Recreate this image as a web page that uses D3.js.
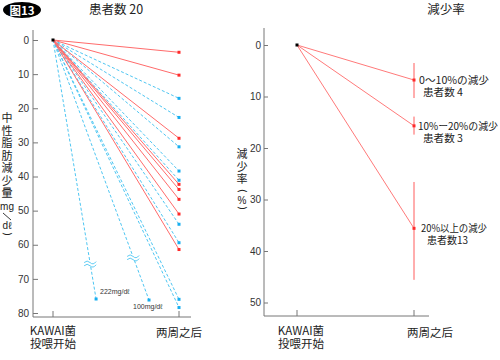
<!DOCTYPE html>
<html><head><meta charset="utf-8">
<script src="https://cdn.jsdelivr.net/npm/d3@7/dist/d3.min.js"></script>
<style>
html,body{margin:0;padding:0;background:#fff;}
svg{display:block;font-family:"Noto Sans CJK JP","Noto Sans CJK SC",sans-serif;}
</style></head>
<body><svg id="c" width="500" height="360"></svg>
<script>
// ---- data ----
const categories = ["KAWAI菌|投喂开始", "两周之后"];
const redValues = [3.6, 10.3, 28.8, 42.3, 43.8, 46.7, 51.0, 61.4];
const blueValues = [17.1, 22.7, 31.3, 38.4, 41.1, 54.0, 59.4, 76.0, 78.4];
const brokenValues = [222, 100];
const brokenLabels = ["222mg/dℓ", "100mg/dℓ"];
const brokenShownAt = [75.9, 76.2];
const brokenBreakAt = [65.4, 63.6];
const leftTicks = [0, 10, 20, 30, 40, 50, 60, 70, 80];
const rateGroups = ["0～10%の減少", "10%ー20%の減少", "20%以上の減少"];
const rateCounts = ["患者数 4", "患者数 3", "患者数13"];
const rateMean = [6.8, 15.7, 35.6];
const rateLow = [3.5, 13.9, 26.6];
const rateHigh = [10.3, 17.4, 45.6];
const rightTicks = [0, 10, 20, 30, 40, 50];

const svg = d3.select("#c");
const RED_LINE = "#ff6b6b", RED_PT = "#ff2a2a", BLUE_LINE = "#4ec6f2", BLUE_PT = "#17aef0", AX = "#777", TXT = "#222";

// badge
svg.append("ellipse").attr("cx", 22).attr("cy", 10).attr("rx", 19).attr("ry", 8).attr("fill", "#000");
svg.append("text").attr("x", 22).attr("y", 14.5).attr("text-anchor", "middle").attr("fill", "#fff")
  .attr("font-size", 11.5).attr("font-weight", "bold").text("图13");

// titles
svg.append("text").attr("x", 116).attr("y", 14).attr("text-anchor", "middle").attr("font-size", 12.5).attr("fill", TXT).text("患者数 20");
svg.append("text").attr("x", 446).attr("y", 14).attr("text-anchor", "middle").attr("font-size", 12.5).attr("fill", TXT).text("減少率");

// ---------- LEFT CHART ----------
const xL = d3.scalePoint().domain(categories).range([53, 179]);
const yL = d3.scaleLinear().domain([0, 80]).range([40, 313]);
const gL = svg.append("g");

gL.append("line").attr("x1", 33).attr("x2", 33).attr("y1", 30).attr("y2", 317).attr("stroke", AX);
gL.append("line").attr("x1", 33).attr("x2", 191).attr("y1", 317).attr("y2", 317).attr("stroke", AX);
const axL = gL.append("g").attr("transform", "translate(33,0)")
  .call(d3.axisLeft(yL).tickValues(leftTicks).tickSizeInner(-5).tickSizeOuter(0).tickPadding(4));
axL.select(".domain").remove();
axL.selectAll(".tick line").attr("stroke", AX);
axL.selectAll(".tick text").attr("font-size", 10).attr("fill", "#333").attr("font-family", "Liberation Sans, Arial, sans-serif");
categories.forEach(c => {
  gL.append("line").attr("x1", xL(c)).attr("x2", xL(c)).attr("y1", 317).attr("y2", 311).attr("stroke", AX);
});

const x0 = xL(categories[0]), x1 = xL(categories[1]);
blueValues.forEach(v => {
  gL.append("line").attr("x1", x0).attr("y1", yL(0)).attr("x2", x1).attr("y2", yL(v))
    .attr("stroke", BLUE_LINE).attr("stroke-width", 1).attr("stroke-dasharray", "3,2");
});
brokenValues.forEach((v, i) => {
  const t = brokenShownAt[i] / v;
  const ex = x0 + (x1 - x0) * t, ey = yL(brokenShownAt[i]);
  gL.append("line").attr("x1", x0).attr("y1", yL(0)).attr("x2", ex).attr("y2", ey)
    .attr("stroke", BLUE_LINE).attr("stroke-width", 1).attr("stroke-dasharray", "3,2");
  const tb = brokenBreakAt[i] / v;
  const bx = x0 + (x1 - x0) * tb, by = yL(brokenBreakAt[i]);
  gL.append("rect").attr("x", bx - 6).attr("y", by - 2.5).attr("width", 12).attr("height", 5).attr("fill", "#fff");
  [-1.6, 1.6].forEach(dy => {
    gL.append("path").attr("d", `M${bx - 6},${by + dy + 1} q3,-3 6,0 t6,-1`)
      .attr("fill", "none").attr("stroke", BLUE_LINE).attr("stroke-width", 0.9);
  });
  gL.append("rect").attr("x", ex - 1.5).attr("y", ey - 1.5).attr("width", 3).attr("height", 3).attr("fill", BLUE_PT);
  gL.append("text").attr("x", i === 1 ? ex - 16 : ex + 4).attr("y", i === 1 ? ey + 9 : ey - 5)
    .attr("font-size", 7).attr("fill", "#333").attr("font-family", "Liberation Sans, Arial, sans-serif").text(brokenLabels[i]);
});
redValues.forEach(v => {
  gL.append("line").attr("x1", x0).attr("y1", yL(0)).attr("x2", x1).attr("y2", yL(v))
    .attr("stroke", RED_LINE).attr("stroke-width", 1);
});
blueValues.forEach(v => {
  gL.append("rect").attr("x", x1 - 1.5).attr("y", yL(v) - 1.5).attr("width", 3).attr("height", 3).attr("fill", BLUE_PT);
});
redValues.forEach(v => {
  gL.append("rect").attr("x", x1 - 1.5).attr("y", yL(v) - 1.5).attr("width", 3).attr("height", 3).attr("fill", RED_PT);
});
gL.append("rect").attr("x", x0 - 1.5).attr("y", yL(0) - 1.5).attr("width", 3).attr("height", 3).attr("fill", "#000");

// vertical CJK label as one text in vertical writing mode
function verticalText(x, yTop, str) {
  svg.append("text").attr("x", x).attr("y", yTop)
    .attr("writing-mode", "tb").style("writing-mode", "vertical-rl")
    .attr("font-size", 11).attr("letter-spacing", 1.5).attr("fill", TXT).text(str);
}
function paren(x, y, ch, size) {
  svg.append("text").attr("transform", `translate(${x},${y}) rotate(90)`)
    .attr("text-anchor", "middle").attr("dominant-baseline", "central")
    .attr("font-size", size).attr("fill", TXT).attr("font-family", "DejaVu Sans, sans-serif").text(ch);
}
function latin(x, y, str) {
  svg.append("text").attr("x", x).attr("y", y).attr("text-anchor", "middle").attr("font-size", 10)
    .attr("fill", TXT).attr("font-family", "Liberation Sans, Arial, sans-serif").text(str);
}

verticalText(7, 112.5, "中性脂肪減少量");
paren(7, 190, "(", 10);
latin(7, 210, "mg");
svg.append("line").attr("x1", 3).attr("y1", 213).attr("x2", 11).attr("y2", 220).attr("stroke", TXT).attr("stroke-width", 0.9);
latin(7, 229, "dℓ");
paren(7, 234, ")", 10);

function catLabel(g, c, x, dx) {
  const parts = c.split("|");
  if (parts.length === 2) {
    const t = g.append("text").attr("text-anchor", "middle").attr("font-size", 11.5).attr("fill", TXT);
    t.append("tspan").attr("x", x + dx).attr("y", 335).text(parts[0]);
    t.append("tspan").attr("x", x + dx).attr("y", 348).text(parts[1]);
  } else {
    g.append("text").attr("x", x + dx).attr("y", 337).attr("text-anchor", "middle").attr("font-size", 11.5).attr("fill", TXT).text(parts[0]);
  }
}
categories.forEach(c => catLabel(gL, c, xL(c), 0));

// ---------- RIGHT CHART ----------
const xR = d3.scalePoint().domain(categories).range([297, 414]);
const yR = d3.scaleLinear().domain([0, 50]).range([45, 302.5]);
const gR = svg.append("g");
gR.append("line").attr("x1", 264).attr("x2", 264).attr("y1", 28).attr("y2", 316).attr("stroke", AX);
gR.append("line").attr("x1", 264).attr("x2", 429).attr("y1", 316).attr("y2", 316).attr("stroke", AX);
const axR = gR.append("g").attr("transform", "translate(264,0)")
  .call(d3.axisLeft(yR).tickValues(rightTicks).tickSizeInner(-4).tickSizeOuter(0).tickPadding(3));
axR.select(".domain").remove();
axR.selectAll(".tick line").attr("stroke", AX);
axR.selectAll(".tick text").attr("font-size", 10).attr("fill", "#333").attr("font-family", "Liberation Sans, Arial, sans-serif");
categories.forEach(c => {
  gR.append("line").attr("x1", xR(c)).attr("x2", xR(c)).attr("y1", 316).attr("y2", 310).attr("stroke", AX);
});
const r0 = xR(categories[0]), r1 = xR(categories[1]);
const labelW = [70, 80, 66], countW = [40, 40, 41];
rateMean.forEach((m, i) => {
  gR.append("line").attr("x1", r1).attr("x2", r1).attr("y1", yR(rateLow[i])).attr("y2", yR(rateHigh[i]))
    .attr("stroke", "#ff5c5c").attr("stroke-width", 1);
  gR.append("line").attr("x1", r0).attr("y1", yR(0)).attr("x2", r1).attr("y2", yR(m))
    .attr("stroke", "#ff7a7a").attr("stroke-width", 1);
  gR.append("rect").attr("x", r1 - 1.5).attr("y", yR(m) - 1.5).attr("width", 3).attr("height", 3).attr("fill", RED_PT);
  const lx = [419, 418, 421][i], cx = [423, 423, 427][i];
  const t = gR.append("text").attr("font-size", 10).attr("fill", TXT);
  t.append("tspan").attr("x", lx).attr("y", yR(m) + 4)
    .attr("textLength", labelW[i]).attr("lengthAdjust", "spacingAndGlyphs").text(rateGroups[i]);
  t.append("tspan").attr("x", cx).attr("y", yR(m) + 16)
    .attr("textLength", countW[i]).attr("lengthAdjust", "spacingAndGlyphs").text(rateCounts[i]);
});
gR.append("rect").attr("x", r0 - 1.5).attr("y", yR(0) - 1.5).attr("width", 3).attr("height", 3).attr("fill", "#000");

// right y label
verticalText(242, 148.5, "減少率");
paren(242, 191, "(", 10);
latin(242, 204, "%");
paren(242, 208, ")", 10);

categories.forEach((c, i) => catLabel(gR, c, xR(c), i === 0 ? 4 : 16));
</script></body></html>
